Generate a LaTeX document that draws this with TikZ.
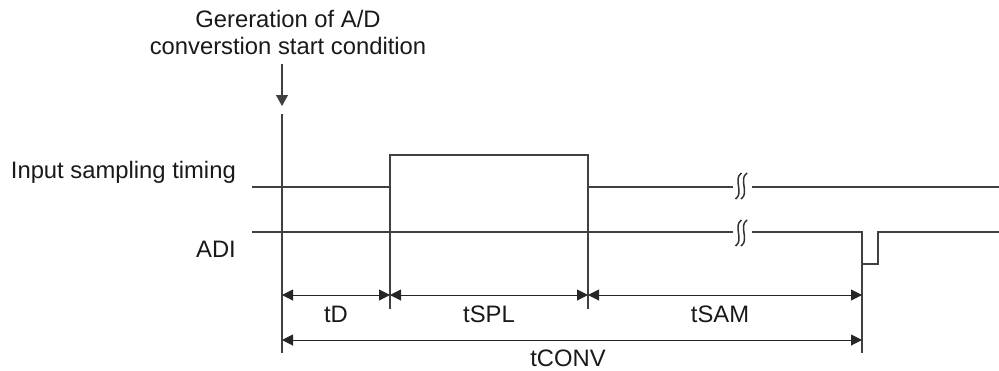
\documentclass[tikz,border=0pt]{standalone}
\usepackage{fontspec}
\setmainfont{Liberation Sans}
\usetikzlibrary{arrows.meta}
\begin{document}
\begin{tikzpicture}[x=1bp,y=-1bp,
  sig/.style={line width=1.1bp, draw=black!75},
  tick/.style={line width=1.1bp, draw=black!75},
  dim/.style={line width=1bp, draw=black!85, {Triangle[length=11bp,width=11bp]}-{Triangle[length=11bp,width=11bp]}},
  lbl/.style={font=\fontsize{23.8bp}{26bp}\selectfont, text=black!90, inner sep=0pt, anchor=base},
  brk/.style={line width=1.5bp, draw=black!80},
]
\useasboundingbox (0,0) rectangle (999,370);

% labels
\node[lbl] (h1) at (288,27) {Gereration of A/D};
\node[lbl] (h2) at (288,54) {converstion start condition};
\node[lbl, anchor=base east] (ist) at (236,178) {Input sampling timing};
\node[lbl, anchor=base east] (adi) at (236,257) {ADI};
\node[lbl] (td) at (336,322) {tD};
\node[lbl] (tspl) at (489,322) {tSPL};
\node[lbl] (tsam) at (720,322) {tSAM};
\node[lbl] (tconv) at (568,366) {tCONV};

% start arrow
\coordinate (arT) at (282,64);
\coordinate (arB) at (282,106);
\draw[sig, -{Triangle[length=11bp,width=12bp]}] (arT) -- (arB);

% reference verticals
\coordinate (v0t) at (282,114);
\coordinate (v0b) at (282,353);
\draw[tick] (v0t) -- (v0b);

% input sampling timing
\coordinate (i0) at (252,187);
\coordinate (iR) at (390,187);
\coordinate (iRt) at (390,155);
\coordinate (iFt) at (588,155);
\coordinate (iF) at (588,187);
\coordinate (iG1) at (733,187);
\coordinate (iG2) at (752,187);
\coordinate (iE) at (999,187);
\draw[sig] (i0) -- (iR) -- (iRt) -- (iFt) -- (iF) -- (iG1);
\draw[sig] (iG2) -- (iE);
\coordinate (t1b) at (390,309);
\coordinate (t2b) at (588,309);
\draw[tick] (iR) -- (t1b);
\draw[tick] (iF) -- (t2b);

% ADI
\coordinate (a0) at (252,232);
\coordinate (aG1) at (733,232);
\coordinate (aG2) at (752,232);
\coordinate (aD) at (862,232);
\coordinate (aDl) at (862,264);
\coordinate (aUl) at (878,264);
\coordinate (aU) at (878,232);
\coordinate (aE) at (999,232);
\draw[sig] (a0) -- (aG1);
\draw[sig] (aG2) -- (aD) -- (aDl) -- (aUl) -- (aU) -- (aE);
\coordinate (v3b) at (862,353);
\draw[tick] (aDl) -- (v3b);

% break marks
\foreach \yy in {186,233}{
  \foreach \xx in {738.5,744}{
    \draw[brk] (\xx+3,\yy-13) .. controls (\xx-6,\yy-7) and (\xx+6,\yy+7) .. (\xx-3,\yy+13);
  }
}

% dimension arrows
\coordinate (d0) at (282,295);
\coordinate (d1) at (390,295);
\coordinate (d2) at (588,295);
\coordinate (d3) at (862,295);
\coordinate (c0) at (282,340);
\coordinate (c1) at (862,340);
\draw[dim] (d0) -- (d1);
\draw[dim] (d1) -- (d2);
\draw[dim] (d2) -- (d3);
\draw[dim] (c0) -- (c1);
\end{tikzpicture}
\end{document}
